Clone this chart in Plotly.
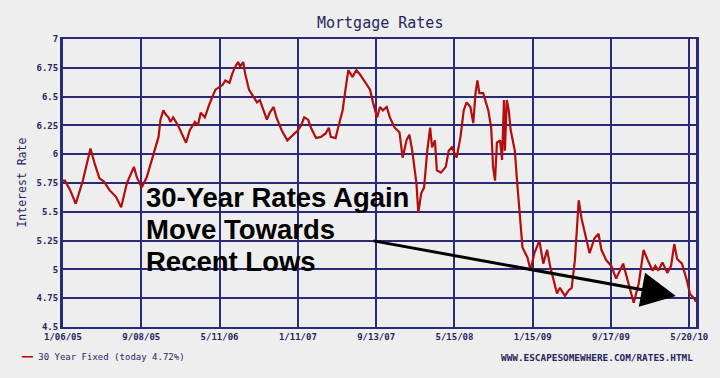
import plotly.graph_objects as go

# ---- data ----
dates = [
    "2005-01-06", "2005-01-12", "2005-01-28", "2005-02-15", "2005-03-09", "2005-04-02",
    "2005-04-15", "2005-04-30", "2005-05-15", "2005-05-31", "2005-06-21", "2005-07-07",
    "2005-07-25", "2005-08-16", "2005-08-25", "2005-09-09", "2005-09-25", "2005-10-16",
    "2005-11-01", "2005-11-07", "2005-11-16", "2005-11-25", "2005-12-02", "2005-12-08",
    "2005-12-17", "2006-01-01", "2006-01-17", "2006-01-26", "2006-02-07", "2006-02-23",
    "2006-03-04", "2006-03-13", "2006-03-26", "2006-04-10", "2006-04-28", "2006-05-11",
    "2006-05-20", "2006-05-29", "2006-06-11", "2006-06-20", "2006-06-29", "2006-07-08",
    "2006-07-14", "2006-07-24", "2006-07-30", "2006-08-11", "2006-08-27", "2006-09-05",
    "2006-09-14", "2006-09-26", "2006-10-06", "2006-10-15", "2006-10-27", "2006-11-05",
    "2006-11-21", "2006-12-09", "2006-12-28", "2007-01-12", "2007-01-21", "2007-01-31",
    "2007-02-12", "2007-02-21", "2007-03-09", "2007-03-24", "2007-04-08", "2007-04-18",
    "2007-04-24", "2007-05-09", "2007-05-18", "2007-05-31", "2007-06-09", "2007-06-18",
    "2007-07-01", "2007-07-13", "2007-07-25", "2007-08-10", "2007-08-25", "2007-09-03",
    "2007-09-16", "2007-09-25", "2007-10-04", "2007-10-16", "2007-10-26", "2007-11-10",
    "2007-11-25", "2007-12-05", "2007-12-17", "2007-12-26", "2008-01-04", "2008-01-17",
    "2008-01-23", "2008-02-01", "2008-02-10", "2008-02-20", "2008-02-29", "2008-03-06",
    "2008-03-15", "2008-03-21", "2008-04-03", "2008-04-18", "2008-04-27", "2008-05-07",
    "2008-05-22", "2008-06-03", "2008-06-13", "2008-06-22", "2008-07-04", "2008-07-13",
    "2008-07-20", "2008-07-26", "2008-08-01", "2008-08-13", "2008-08-29", "2008-09-07",
    "2008-09-13", "2008-09-19", "2008-09-25", "2008-10-05", "2008-10-11", "2008-10-17",
    "2008-10-20", "2008-10-26", "2008-11-01", "2008-11-07", "2008-11-20", "2008-11-26",
    "2008-12-05", "2008-12-14", "2008-12-30", "2009-01-08", "2009-01-20", "2009-02-05",
    "2009-02-17", "2009-03-01", "2009-03-11", "2009-03-23", "2009-04-01", "2009-04-10",
    "2009-04-26", "2009-05-08", "2009-05-17", "2009-05-27", "2009-06-05", "2009-06-08",
    "2009-06-17", "2009-07-03", "2009-07-12", "2009-07-27", "2009-08-09", "2009-08-18",
    "2009-09-02", "2009-09-18", "2009-10-03", "2009-10-25", "2009-11-09", "2009-11-27",
    "2009-12-13", "2009-12-28", "2010-01-10", "2010-01-25", "2010-02-03", "2010-02-12",
    "2010-02-25", "2010-03-12", "2010-03-24", "2010-04-03", "2010-04-12", "2010-04-27",
    "2010-05-13", "2010-05-22", "2010-06-06", "2010-06-10",
]
rates = [
    5.77, 5.77, 5.69, 5.57, 5.77, 6.05,
    5.92, 5.79, 5.76, 5.69, 5.63, 5.54,
    5.75, 5.89, 5.80, 5.71, 5.80, 6.01,
    6.15, 6.30, 6.38, 6.34, 6.32, 6.28,
    6.32, 6.25, 6.15, 6.10, 6.21, 6.28,
    6.25, 6.36, 6.32, 6.44, 6.56, 6.58,
    6.60, 6.64, 6.62, 6.70, 6.76, 6.80,
    6.76, 6.80, 6.70, 6.56, 6.49, 6.45,
    6.47, 6.38, 6.30, 6.36, 6.41, 6.32,
    6.21, 6.12, 6.17, 6.21, 6.25, 6.32,
    6.30, 6.23, 6.14, 6.15, 6.18, 6.23,
    6.15, 6.14, 6.24, 6.38, 6.56, 6.73,
    6.67, 6.73, 6.69, 6.62, 6.56, 6.45,
    6.32, 6.41, 6.38, 6.41, 6.32, 6.23,
    6.19, 5.97, 6.12, 6.17, 6.03, 5.75,
    5.49, 5.66, 5.71, 6.03, 6.23, 6.06,
    6.12, 5.86, 5.84, 5.89, 6.03, 6.06,
    5.97, 6.15, 6.38, 6.45, 6.41, 6.27,
    6.53, 6.64, 6.53, 6.53, 6.38, 6.23,
    5.89, 5.77, 6.10, 6.12, 5.95, 6.47,
    6.03, 6.47, 6.38, 6.21, 6.03, 5.80,
    5.51, 5.19, 5.10, 4.99, 5.14, 5.25,
    5.05, 5.17, 5.02, 4.90, 4.79, 4.84,
    4.77, 4.82, 4.84, 5.08, 5.49, 5.60,
    5.44, 5.23, 5.14, 5.27, 5.31, 5.17,
    5.08, 5.03, 4.92, 5.05, 4.90, 4.71,
    4.88, 5.17, 5.08, 4.99, 5.03, 4.99,
    5.06, 4.97, 5.03, 5.22, 5.09, 5.05,
    4.90, 4.79, 4.74, 4.72,
]
x_tick_dates = ["2005-01-06", "2005-09-08", "2006-05-11", "2007-01-11", "2007-09-13",
                "2008-05-15", "2009-01-15", "2009-09-17", "2010-05-20"]
x_tick_labels = ["1/06/05", "9/08/05", "5/11/06", "1/11/07", "9/13/07",
                 "5/15/08", "1/15/09", "9/17/09", "5/20/10"]
y_tick_vals = [4.5, 4.75, 5, 5.25, 5.5, 5.75, 6, 6.25, 6.5, 6.75, 7]
y_tick_labels = ["4.5", "4.75", "5", "5.25", "5.5", "5.75", "6", "6.25", "6.5", "6.75", "7"]
headline_lines = ["30-Year Rates Again", "Move Towards", "Recent Lows"]

NAVY = "#2a2a78"
TXT = "#26265e"
BG = "#eeeeee"
MONO = "DejaVu Sans Mono"

fig = go.Figure()
fig.add_trace(go.Scatter(x=dates, y=rates, mode="lines",
                         line=dict(color="#b30d0d", width=2.2),
                         name="30 Year Fixed", showlegend=False))

annotations = [
    dict(text="Mortgage Rates", xref="paper", yref="paper", x=0.5, y=1,
         yshift=16, xanchor="center", yanchor="middle", showarrow=False,
         font=dict(family=MONO, size=15, color=TXT)),
    dict(text="Interest Rate", xref="paper", yref="paper", x=-0.064, y=0.503,
         xanchor="center", yanchor="middle", textangle=-90, showarrow=False,
         font=dict(family=MONO, size=11.5, color=TXT)),
    dict(text="<span style='color:#c00000'><b>━━</b></span> 30 Year Fixed (today 4.72%)",
         xref="paper", yref="paper", x=-0.069, y=-0.105, xanchor="left",
         yanchor="middle", showarrow=False,
         font=dict(family=MONO, size=9, color=TXT)),
    dict(text="WWW.ESCAPESOMEWHERE.COM/RATES.HTML", xref="paper", yref="paper",
         x=0.999, y=-0.105, xanchor="right", yanchor="middle", showarrow=False,
         font=dict(family=MONO, size=9.4, color=TXT, weight="bold")),
    dict(x="2010-04-08", y=4.77, ax="2007-08-31", ay=5.25,
         xref="x", yref="y", axref="x", ayref="y", text="",
         showarrow=True, arrowhead=2, arrowwidth=3, arrowsize=2.3,
         arrowcolor="#000000"),
]
for line_text, ypos in zip(headline_lines, [0.451, 0.340, 0.226]):
    annotations.append(dict(text=line_text, xref="paper", yref="paper", x=0.128, y=ypos,
                            xanchor="left", yanchor="middle", showarrow=False,
                            font=dict(family="Liberation Sans", size=27.5,
                                      color="#000000", weight="bold")))

fig.update_layout(
    width=720, height=378,
    margin=dict(l=63, r=13, t=39, b=51),
    paper_bgcolor=BG, plot_bgcolor=BG,
    xaxis=dict(range=["2005-01-06", "2010-06-10"], tickmode="array",
               tickvals=x_tick_dates, ticktext=x_tick_labels,
               showgrid=True, gridcolor=NAVY, gridwidth=2,
               showline=True, linecolor=NAVY, linewidth=2, mirror=True,
               zeroline=False, ticks="",
               tickfont=dict(family=MONO, size=9, color=TXT, weight="bold")),
    yaxis=dict(range=[4.5, 7], tickmode="array",
               tickvals=y_tick_vals, ticktext=y_tick_labels,
               showgrid=True, gridcolor=NAVY, gridwidth=2,
               showline=True, linecolor=NAVY, linewidth=3, mirror=True,
               zeroline=False, ticks="",
               tickfont=dict(family=MONO, size=9, color=TXT, weight="bold")),
    annotations=annotations,
)

fig.write_html(
    "out.html",
    config={"displayModeBar": False},
    post_script="document.body.style.margin='0';document.body.style.background='#eeeeee';",
)
